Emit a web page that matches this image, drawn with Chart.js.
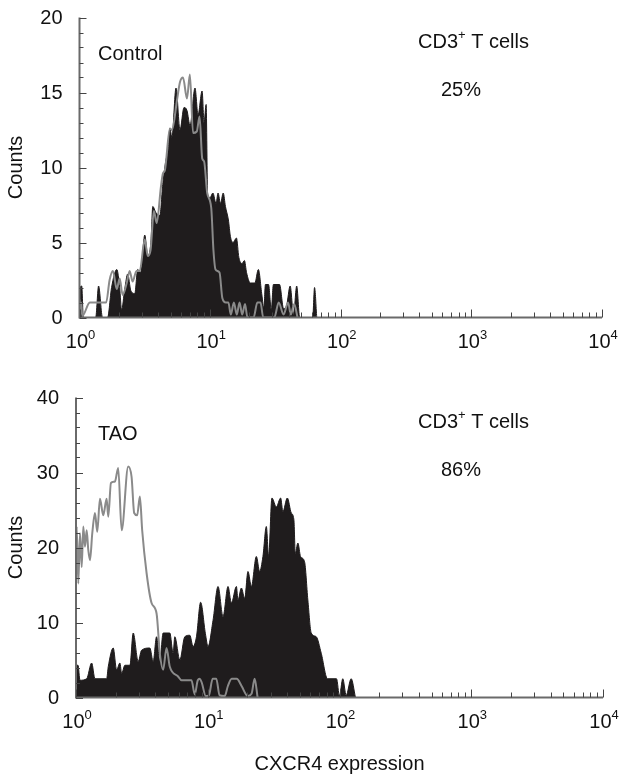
<!DOCTYPE html>
<html>
<head>
<meta charset="utf-8">
<title>CXCR4 expression on CD3+ T cells</title>
<script src="https://cdn.jsdelivr.net/npm/chart.js@4.4.0/dist/chart.umd.min.js"></script>
<style>
  html, body { margin: 0; padding: 0; background: #fff; }
  #wrap { position: relative; width: 620px; height: 775px; }
  canvas { position: absolute; left: 0; }
  #chartControl { top: 0; }
  #chartTAO { top: 370px; }
</style>
</head>
<body>
<div id="wrap">
  <canvas id="chartControl" width="620" height="360"></canvas>
  <canvas id="chartTAO" width="620" height="405"></canvas>
</div>
<script>
// Histograms: [CXCR4 expression, counts]
const controlStained = [
  [1.00, 2.0], [1.04, 2.1], [1.07, 0], [1.33, 0], [1.40, 2.1], [1.50, 0], [1.64, 0],
  [1.76, 2.0], [1.93, 3.2], [2.03, 2.0], [2.10, 0.5], [2.22, 1.9], [2.34, 2.9], [2.47, 1.8],
  [2.65, 1.6], [2.79, 3.2], [2.94, 3.0], [3.16, 5.5], [3.33, 4.1], [3.52, 5.0], [3.64, 7.4],
  [3.84, 7.0], [4.12, 6.8], [4.35, 9.0], [4.59, 10.5], [4.75, 11.0], [4.92, 12.6], [5.10, 12.0],
  [5.48, 15.3], [5.88, 12.5], [6.31, 14.0], [6.65, 13.8], [7.02, 12.8], [7.66, 15.3], [8.08, 13.5],
  [8.68, 15.1], [8.99, 13.0], [9.32, 14.2], [9.57, 8.2], [10.0, 8.0], [10.5, 8.3], [11.1, 7.6],
  [11.5, 8.3], [12.0, 7.6], [12.6, 8.3], [13.1, 7.4], [13.8, 6.5], [14.3, 5.4], [15.0, 5.0],
  [15.9, 5.3], [16.6, 4.0], [17.6, 3.6], [18.3, 3.8], [19.0, 3.0], [20.3, 2.3], [22.0, 2.3],
  [23.4, 3.2], [24.9, 1.5], [25.8, 0.6], [26.5, 2.2], [28.0, 2.2], [29.4, 0.5], [30.5, 2.2],
  [34.0, 2.2], [36.5, 0.6], [38.5, 0.8], [41.0, 2.1], [43.5, 0.2], [46.0, 2.1], [48.5, 0],
  [61.0, 0], [63.0, 2.0], [65.5, 0]
];
const controlIsotype = [
  [1.00, 1.2], [1.015, 0.2], [1.03, 1.0], [1.05, 0.1], [1.20, 1.0], [1.60, 1.0], [1.70, 2.5],
  [1.80, 3.1], [1.93, 1.9], [2.03, 2.6], [2.14, 1.5], [2.30, 2.3], [2.42, 3.1], [2.55, 2.4],
  [2.73, 3.1], [2.89, 3.1], [3.16, 5.2], [3.33, 4.1], [3.50, 4.5], [3.71, 7.1], [3.90, 6.3],
  [4.20, 8.7], [4.35, 9.6], [4.50, 9.8], [4.92, 12.6], [5.10, 12.5], [5.60, 14.6], [5.88, 15.7],
  [6.20, 16.0], [6.65, 14.6], [7.00, 16.2], [7.40, 12.3], [7.90, 12.4], [8.30, 13.4], [8.70, 10.6],
  [9.00, 10.4], [9.50, 8.3], [10.2, 7.3], [10.6, 4.5], [11.0, 3.2], [11.8, 3.0], [12.4, 1.3],
  [13.2, 1.0], [13.8, 1.0], [14.4, 0.2], [15.2, 1.0], [16.0, 0.2], [16.8, 1.0], [17.6, 0.2],
  [18.5, 0.9], [19.3, 0], [21.5, 0], [23.0, 1.0], [24.3, 1.0], [25.5, 0], [31.0, 0], [33.5, 1.0],
  [36.5, 0.2], [39.5, 1.0], [41.5, 0.2], [44.0, 0.9], [46.7, 0]
];
const taoStained = [
  [1.00, 4.3], [1.036, 4.3], [1.072, 2.3], [1.205, 2.5], [1.315, 4.6], [1.393, 2.5], [1.708, 2.5],
  [1.757, 4.1], [1.917, 6.6], [2.034, 3.7], [2.154, 4.6], [2.220, 3.2], [2.351, 4.3], [2.566, 4.3],
  [2.718, 8.6], [2.965, 4.8], [3.146, 6.3], [3.636, 6.6], [3.851, 4.8], [4.088, 8.1], [4.329, 4.8],
  [4.585, 8.6], [5.154, 8.6], [5.460, 5.9], [5.623, 8.1], [6.136, 5.0], [6.695, 8.1], [7.306, 8.3],
  [7.739, 6.8], [8.210, 8.1], [8.83, 12.7], [9.60, 8.5], [10.05, 6.8], [10.97, 10.3], [11.97, 14.8],
  [13.06, 10.8], [14.25, 14.8], [15.12, 12.6], [16.50, 14.8], [16.96, 13.0], [18.00, 14.6],
  [19.07, 13.2], [20.20, 16.8], [21.43, 14.8], [23.38, 18.8], [24.77, 16.8], [26.23, 18.8],
  [27.84, 22.8], [28.98, 18.8], [30.70, 26.6], [33.15, 25.4], [35.73, 26.6], [37.20, 24.8],
  [40.16, 26.6], [43.07, 24.6], [45.07, 23.7], [46.17, 19.2], [48.31, 20.6], [50.64, 18.8],
  [54.30, 18.1], [57.52, 13.0], [61.04, 8.6], [66.62, 8.1], [72.67, 5.9], [81.11, 2.5],
  [94.91, 2.5], [100.0, 0.2], [105.9, 2.5], [112.4, 0.3], [122.6, 2.5], [132.2, 0]
];
const taoIsotype = [
  [1.00, 18.0], [1.012, 22.8], [1.041, 15.2], [1.072, 21.9], [1.105, 17.4], [1.136, 22.8],
  [1.170, 20.1], [1.205, 22.3], [1.239, 19.7], [1.277, 18.3], [1.329, 21.9], [1.393, 24.6],
  [1.450, 22.1], [1.520, 26.5], [1.610, 24.3], [1.708, 26.5], [1.757, 24.1], [1.842, 28.6],
  [1.975, 28.8], [2.091, 30.6], [2.220, 22.3], [2.490, 30.8], [2.642, 29.4], [2.765, 24.6],
  [2.913, 24.3], [3.054, 26.8], [3.179, 22.3], [3.433, 16.6], [3.746, 12.6], [4.088, 11.2],
  [4.329, 5.9], [4.585, 3.7], [4.866, 6.6], [5.154, 4.1], [5.957, 2.8], [6.321, 2.3], [7.524, 2.3],
  [7.970, 0.4], [8.40, 2.3], [8.70, 2.5], [9.00, 2.0], [9.66, 0.2], [10.2, 0.3], [10.9, 2.5],
  [11.6, 2.5], [12.3, 0.3], [13.45, 0.2], [14.2, 1.5], [15.2, 2.5], [16.6, 2.5], [18.1, 1.5],
  [20.1, 0.2], [21.5, 0.5], [22.7, 2.5], [23.9, 0]
];

// Axis ticks
const decades = [1, 10, 100, 1000, 10000];
const decadeExponents = ['0', '1', '2', '3', '4'];
const controlYLabels = [0, 5, 10, 15, 20];
const taoYLabels = [0, 10, 20, 30, 40];

const FONT = '"Liberation Sans", Arial, Helvetica, sans-serif';
const TXT = 20;
const SUP = 13;

function logTicks() {
  const t = [];
  decades.slice(0, -1).forEach(d => {
    for (let m = 1; m < 10; m++) t.push({ value: m * d });
  });
  t.push({ value: decades[decades.length - 1] });
  return t;
}

function toPoints(rows) {
  return rows.map(([x, y]) => ({ x, y }));
}

// text with a raised piece in the middle, e.g. CD3+ or 10^n
function drawSup(ctx, parts, x, baseline, align) {
  const widths = parts.map(p => {
    ctx.font = `${p.sup ? SUP : TXT}px ${FONT}`;
    return ctx.measureText(p.t).width;
  });
  const total = widths.reduce((a, b) => a + b, 0);
  let cx = align === 'center' ? x - total / 2 : x;
  ctx.textAlign = 'left';
  ctx.textBaseline = 'alphabetic';
  parts.forEach((p, i) => {
    ctx.font = `${p.sup ? SUP : TXT}px ${FONT}`;
    ctx.fillText(p.t, cx, p.sup ? baseline - 9 : baseline);
    cx += widths[i];
  });
}

const panelDecor = {
  id: 'panelDecor',
  afterDatasetsDraw(chart, args, o) {
    const { ctx, chartArea: a, scales: { x, y } } = chart;
    ctx.save();

    // axes
    ctx.strokeStyle = '#6a6a6a';
    ctx.lineWidth = 2;
    ctx.beginPath();
    ctx.moveTo(a.left, a.top);
    ctx.lineTo(a.left, a.bottom);
    ctx.lineTo(a.right, a.bottom);
    ctx.stroke();

    // inward tick marks
    ctx.strokeStyle = '#444';
    ctx.lineWidth = 1;
    ctx.beginPath();
    y.ticks.forEach(t => {
      const py = Math.round(y.getPixelForValue(t.value)) + 0.5;
      const len = o.yLabels.includes(t.value) ? 7 : 4;
      ctx.moveTo(a.left, py);
      ctx.lineTo(a.left + len, py);
    });
    x.ticks.forEach(t => {
      const px = Math.round(x.getPixelForValue(t.value)) + 0.5;
      const len = decades.includes(t.value) ? 8 : 5;
      ctx.moveTo(px, a.bottom);
      ctx.lineTo(px, a.bottom - len);
    });
    ctx.stroke();

    ctx.fillStyle = '#111';

    // y tick labels
    ctx.font = `${TXT}px ${FONT}`;
    ctx.textAlign = 'right';
    ctx.textBaseline = 'middle';
    o.yLabels.forEach(v => ctx.fillText(String(v), a.left - 17, y.getPixelForValue(v) + 1));

    // x tick labels as powers of ten
    decades.forEach((d, i) => {
      drawSup(ctx, [{ t: '10' }, { t: decadeExponents[i], sup: true }],
        x.getPixelForValue(d) + 1, a.bottom + 30, 'center');
    });

    // y title
    ctx.save();
    ctx.translate(16, (a.top + a.bottom) / 2);
    ctx.rotate(-Math.PI / 2);
    ctx.font = `${TXT}px ${FONT}`;
    ctx.textAlign = 'center';
    ctx.textBaseline = 'middle';
    ctx.fillText('Counts', 0, 0);
    ctx.restore();

    // panel annotations
    ctx.font = `${TXT}px ${FONT}`;
    ctx.textAlign = 'left';
    ctx.textBaseline = 'alphabetic';
    ctx.fillText(o.group, 98, a.top + 42);
    drawSup(ctx, [{ t: 'CD3' }, { t: '+', sup: true }, { t: ' T cells' }], 418, a.top + 30, 'left');
    ctx.font = `${TXT}px ${FONT}`;
    ctx.fillText(o.percent, 441, a.top + 78);

    if (o.xTitle) {
      ctx.textAlign = 'center';
      ctx.fillText(o.xTitle, (a.left + a.right) / 2, a.bottom + 72);
    }
    ctx.restore();
  }
};

function createPanel(canvas, cfg) {
  return new Chart(canvas, {
    type: 'line',
    data: {
      datasets: [
        {
          label: 'Isotype',
          data: toPoints(cfg.isotype),
          borderColor: '#8a8a8a',
          borderWidth: 2,
          fill: false,
          order: 0
        },
        {
          label: 'CXCR4',
          data: toPoints(cfg.stained),
          borderColor: '#1f1c1d',
          backgroundColor: '#1f1c1d',
          borderWidth: 1,
          fill: 'origin',
          order: 1
        }
      ]
    },
    options: {
      responsive: false,
      animation: false,
      layout: { padding: cfg.padding },
      elements: {
        point: { radius: 0 },
        line: { cubicInterpolationMode: 'monotone' }
      },
      plugins: {
        legend: { display: false },
        tooltip: { enabled: false },
        panelDecor: {
          yLabels: cfg.yLabels,
          group: cfg.group,
          percent: cfg.percent,
          xTitle: cfg.xTitle
        }
      },
      scales: {
        x: {
          type: 'logarithmic',
          min: 1,
          max: 10000,
          grid: { display: false },
          border: { display: false },
          ticks: { display: false },
          afterBuildTicks: s => { s.ticks = logTicks(); },
          afterFit: s => { s.height = 0; }
        },
        y: {
          min: 0,
          max: cfg.yLabels[cfg.yLabels.length - 1],
          grid: { display: false },
          border: { display: false },
          ticks: { display: false, stepSize: cfg.yStep },
          afterFit: s => { s.width = 0; }
        }
      }
    },
    plugins: [panelDecor]
  });
}

const chartControl = createPanel(document.getElementById('chartControl'), {
  stained: controlStained,
  isotype: controlIsotype,
  yLabels: controlYLabels,
  yStep: 1,
  group: 'Control',
  percent: '25%',
  padding: { left: 79.5, right: 18, top: 17.5, bottom: 42.5 }
});

const chartTAO = createPanel(document.getElementById('chartTAO'), {
  stained: taoStained,
  isotype: taoIsotype,
  yLabels: taoYLabels,
  yStep: 2,
  group: 'TAO',
  percent: '86%',
  xTitle: 'CXCR4 expression',
  padding: { left: 76, right: 17, top: 27.5, bottom: 77.5 }
});
</script>
</body>
</html>
